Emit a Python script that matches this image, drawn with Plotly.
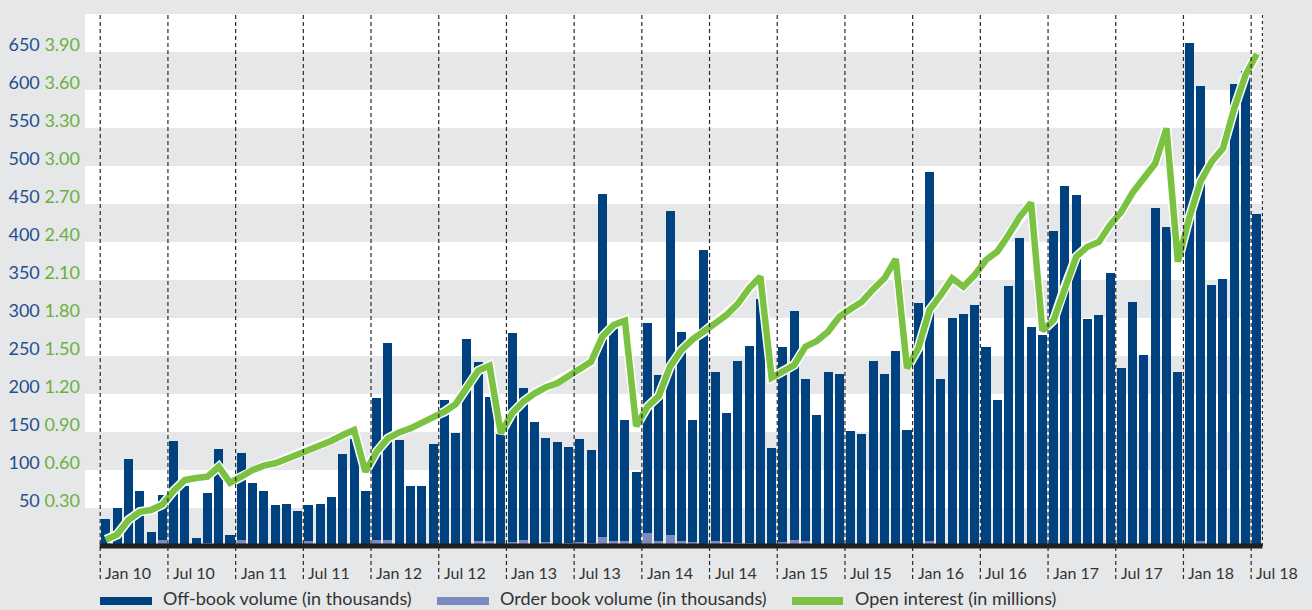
import plotly.graph_objects as go

# ---------------- data ----------------
month_names = ["Jan", "Feb", "Mar", "Apr", "May", "Jun",
               "Jul", "Aug", "Sep", "Oct", "Nov", "Dec"]
months = [f"{m} {str(y)[2:]}" for y in range(2010, 2019) for m in month_names][:103]

off_book = [35, 48, 111, 70, 15, 59, 136, 78, 8, 66, 127, 13,
            114, 81, 71, 53, 54, 45, 47, 53, 63, 119, 138, 70,
            187, 259, 136, 77, 77, 132, 189, 148, 270, 236, 190, 149,
            275, 200, 162, 137, 135, 126, 136, 122, 451, 286, 159, 94,
            276, 218, 426, 275, 161, 386, 222, 170, 239, 259, 324, 127,
            257, 301, 213, 171, 229, 225, 150, 146, 242, 225, 255, 152,
            317, 486, 219, 298, 304, 316, 261, 191, 341, 404, 287, 277,
            413, 473, 461, 298, 303, 357, 233, 320, 250, 444, 419, 228,
            661, 599, 342, 350, 605, 622, 436]

order_book = [0, 2, 3, 2, 3, 8, 2, 1, 2, 4, 1, 1,
              8, 2, 1, 1, 1, 1, 7, 2, 1, 2, 3, 2,
              8, 8, 3, 2, 2, 2, 3, 1, 2, 6, 6, 1,
              5, 8, 1, 5, 2, 4, 5, 4, 12, 7, 7, 3,
              17, 7, 15, 7, 5, 3, 7, 5, 4, 4, 1, 2,
              5, 8, 7, 1, 0, 1, 1, 1, 1, 1, 1, 1,
              3, 6, 1, 2, 1, 1, 1, 1, 1, 1, 1, 1,
              1, 1, 1, 1, 1, 2, 1, 1, 1, 1, 1, 1,
              1, 6, 1, 1, 3, 3, 1]

open_interest = [0.05, 0.09, 0.205, 0.27, 0.284, 0.326, 0.434, 0.521, 0.537, 0.547, 0.626, 0.50,
                 0.547, 0.60, 0.634, 0.653, 0.687, 0.72, 0.758, 0.789, 0.831, 0.876, 0.916, 0.587,
                 0.745, 0.850, 0.897, 0.929, 0.974, 1.021, 1.06, 1.12, 1.245, 1.384, 1.424, 0.89,
                 1.048, 1.14, 1.205, 1.253, 1.284, 1.342, 1.397, 1.455, 1.653, 1.745, 1.779, 0.947,
                 1.10, 1.184, 1.416, 1.547, 1.632, 1.69, 1.758, 1.824, 1.911, 2.034, 2.126, 1.329,
                 1.382, 1.429, 1.574, 1.618, 1.692, 1.81, 1.871, 1.929, 2.026, 2.113, 2.265, 1.403,
                 1.561, 1.863, 1.982, 2.113, 2.047, 2.139, 2.258, 2.324, 2.455, 2.60, 2.71, 1.70,
                 1.784, 2.047, 2.284, 2.363, 2.40, 2.534, 2.639, 2.79, 2.903, 3.021, 3.297, 2.245,
                 2.587, 2.876, 3.034, 3.139, 3.455, 3.718, 3.884]

left_ticks = [50, 100, 150, 200, 250, 300, 350, 400, 450, 500, 550, 600, 650]
right_labels = ["0.30", "0.60", "0.90", "1.20", "1.50", "1.80", "2.10",
                "2.40", "2.70", "3.00", "3.30", "3.60", "3.90"]
x_tick_labels = [m for m in months if m.startswith(("Jan", "Jul"))]
legend_labels = ["Off-book volume (in thousands)",
                 "Order book volume (in thousands)",
                 "Open interest (in millions)"]

# ---------------- styling ----------------
DARK = "#00427f"
LIGHT = "#7b8bc0"
GREEN = "#7cc242"
TICK_BLUE = "#1f4f8e"
TICK_GREEN = "#6bb03f"
BG = "#e6e7e8"
FONT = "Lato"

W, H = 1312, 610
L, R, T, B = 85, 49, 14, 64
PW, PH = W - L - R, H - T - B


def px_x(x):
    return (x - L) / PW


def px_y(y):
    return (H - B - y) / PH


fig = go.Figure()
fig.add_trace(go.Bar(x=months, y=order_book, marker=dict(color=LIGHT, line=dict(width=0)),
                     width=0.8, name=legend_labels[1], showlegend=False))
fig.add_trace(go.Bar(x=months, y=off_book, marker=dict(color=DARK, line=dict(width=0)),
                     width=0.8, name=legend_labels[0], showlegend=False))
fig.add_trace(go.Scatter(x=months, y=open_interest, yaxis="y2", mode="lines",
                         line=dict(color="white", width=9.5), hoverinfo="skip", showlegend=False))
fig.add_trace(go.Scatter(x=months, y=open_interest, yaxis="y2", mode="lines",
                         line=dict(color=GREEN, width=6.5), name=legend_labels[2], showlegend=False))

shapes = []
# alternating white bands
for v in left_ticks[::2]:
    shapes.append(dict(type="rect", xref="paper", yref="y", x0=0, x1=1, y0=v, y1=v + 50,
                       fillcolor="white", line=dict(width=0), layer="below"))
# dashed vertical separators
n = len(months)
for lbl in x_tick_labels:
    p = months.index(lbl) - 0.5
    shapes.append(dict(type="line", xref="x", yref="paper", x0=p, x1=p, y0=px_y(579), y1=1,
                       line=dict(color="#2a2a2a", width=1.2, dash="4px,3px"), layer="above"))
shapes.append(dict(type="line", xref="x", yref="paper", x0=n - 0.5, x1=n - 0.5, y0=0, y1=1,
                   line=dict(color="#2a2a2a", width=1.2, dash="3px,3px"), layer="above"))
# baseline
shapes.append(dict(type="line", xref="x", yref="paper", x0=-0.55, x1=n - 0.5, y0=0, y1=0,
                   line=dict(color="#231f20", width=5), layer="above"))

annotations = []
for lbl in x_tick_labels:
    p = months.index(lbl) - 0.5
    annotations.append(dict(x=p, xref="x", y=px_y(572), yref="paper", text=lbl,
                            showarrow=False, xanchor="left", yanchor="middle", xshift=3,
                            font=dict(family=FONT, size=16, color="#333333")))

# manual legend
leg_items = [(100, 152, 161, DARK), (437, 489, 498, LIGHT), (792, 843, 853, GREEN)]
for (sx0, sx1, tx, col), txt in zip(leg_items, legend_labels):
    shapes.append(dict(type="rect", xref="paper", yref="paper",
                       x0=px_x(sx0), x1=px_x(sx1), y0=px_y(605), y1=px_y(597),
                       fillcolor=col, line=dict(width=0)))
    annotations.append(dict(x=px_x(tx), xref="paper", y=px_y(598), yref="paper", text=txt,
                            showarrow=False, xanchor="left", yanchor="middle",
                            font=dict(family=FONT, size=18, color="#333333")))

tick_text = [f'<span style="color:{TICK_BLUE}">{a}</span> <span style="color:{TICK_GREEN}">{b}</span>'
             for a, b in zip(left_ticks, right_labels)]

fig.update_layout(
    width=W, height=H,
    margin=dict(l=L, r=R, t=T, b=B, autoexpand=False),
    paper_bgcolor=BG, plot_bgcolor=BG,
    barmode="stack", bargap=0.2,
    showlegend=False,
    font=dict(family=FONT, size=16, color="#333333"),
    xaxis=dict(type="category", categoryorder="array", categoryarray=months,
               range=[-1.85, n - 0.45], showticklabels=False, showgrid=False,
               zeroline=False, showline=False, ticks="", automargin=False),
    yaxis=dict(range=[0, 700], tickvals=left_ticks, ticktext=tick_text,
               ticklabelposition="outside top", ticklabelshift=5, ticklabelstandoff=4,
               ticks="", showgrid=False, zeroline=False, automargin=False,
               showline=False, tickfont=dict(family=FONT, size=18)),
    yaxis2=dict(range=[0, 4.2], overlaying="y", side="right", visible=False),
    shapes=shapes,
    annotations=annotations,
)

fig.write_html(
    "out.html",
    config={"displayModeBar": False},
    post_script="document.body.style.margin='0';document.body.style.padding='0';"
                "document.body.style.background='" + BG + "';",
)
